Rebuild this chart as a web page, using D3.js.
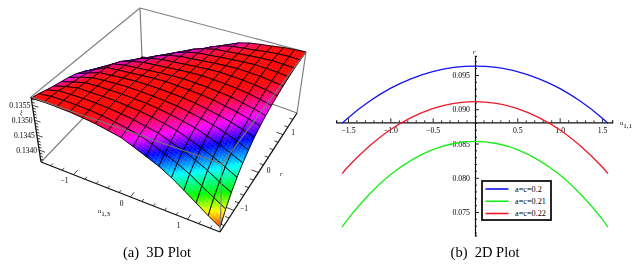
<!DOCTYPE html>
<html>
<head>
<meta charset="utf-8">
<title>3D and 2D plot</title>
<script src="https://cdn.jsdelivr.net/npm/d3@7"></script>
<style>
    html, body { margin: 0; padding: 0; background: #fff; }
    svg { display: block; filter: blur(0.3px); }
    text { font-family: "Liberation Serif", serif; fill: #000; }
</style>
</head>
<body>
<svg id="chart" width="642" height="267"></svg>
<script>
// surface data. one row per r, one column per u, in units of 1e-5
var uGrid = [-1.57, -1.36, -1.15, -0.94, -0.73, -0.52, -0.31, -0.10, 0.10, 0.31, 0.52, 0.73, 0.94, 1.15, 1.36, 1.57];
var rGrid = [-1.57, -1.36, -1.15, -0.94, -0.73, -0.52, -0.31, -0.10, 0.10, 0.31, 0.52, 0.73, 0.94, 1.15, 1.36, 1.57];
var surfaceZ = [
    [13573,13575,13574,13572,13568,13563,13555,13547,13531,13514,13497,13475,13449,13423,13397,13375],
    [13568,13574,13575,13574,13572,13568,13562,13554,13546,13531,13514,13497,13477,13453,13430,13408],
    [13560,13572,13574,13575,13574,13571,13567,13561,13553,13545,13530,13515,13498,13479,13456,13436],
    [13553,13566,13575,13575,13575,13574,13571,13567,13561,13553,13544,13530,13515,13498,13480,13460],
    [13547,13560,13572,13575,13575,13575,13573,13571,13566,13560,13552,13543,13530,13515,13499,13482],
    [13540,13555,13568,13572,13575,13576,13575,13573,13570,13566,13559,13551,13542,13530,13516,13499],
    [13531,13548,13564,13568,13572,13575,13576,13575,13573,13570,13565,13558,13550,13541,13529,13516],
    [13516,13538,13560,13564,13568,13572,13575,13577,13575,13573,13570,13565,13557,13550,13540,13529],
    [13499,13525,13551,13560,13564,13568,13572,13575,13577,13575,13573,13569,13565,13557,13549,13539],
    [13469,13505,13536,13551,13560,13564,13568,13572,13575,13577,13575,13573,13569,13564,13556,13548],
    [13442,13475,13514,13536,13551,13560,13564,13568,13572,13575,13577,13575,13573,13569,13564,13555],
    [13421,13444,13484,13514,13536,13551,13560,13564,13568,13572,13575,13577,13575,13573,13568,13563],
    [13401,13423,13451,13484,13514,13536,13551,13560,13564,13568,13572,13575,13577,13575,13573,13568],
    [13384,13401,13425,13451,13484,13514,13536,13551,13560,13564,13568,13572,13575,13577,13575,13573],
    [13371,13384,13401,13424,13448,13478,13508,13531,13548,13557,13562,13566,13572,13575,13577,13575],
    [13360,13371,13384,13401,13421,13442,13469,13499,13525,13544,13555,13561,13566,13572,13575,13577]
];
var zUnit = 1e-5;
var uTicks = [-1, 0, 1];
var rTicks = [-1, 0, 1];
var zTicks = [0.1340, 0.1345, 0.1350, 0.1355];

// 2D plot data
var curveU = [-1.57, -1.5, -1.25, -1, -0.75, -0.5, -0.25, 0, 0.25, 0.5, 0.75, 1, 1.25, 1.5, 1.57];
var blueValues = [0.08795, 0.08874, 0.09112, 0.09304, 0.09448, 0.0955, 0.0961, 0.0963, 0.0961, 0.0955, 0.09448, 0.09304, 0.09112, 0.08874, 0.08795];
var greenValues = [0.0728, 0.07399, 0.07755, 0.08043, 0.08257, 0.0841, 0.085, 0.0853, 0.085, 0.0841, 0.08257, 0.08043, 0.07755, 0.07399, 0.0728];
var redValues = [0.0806, 0.0816, 0.08459, 0.08701, 0.08881, 0.09009, 0.09085, 0.0911, 0.09085, 0.09009, 0.08881, 0.08701, 0.08459, 0.0816, 0.0806];
var seriesNames = ["a=c=0.2", "a=c=0.21", "a=c=0.22"];
var seriesColors = ["#1212ee", "#18ee18", "#ee1828"];
var xTicks2d = [-1.5, -1, -0.5, 0.5, 1, 1.5];
var yTicks2d = [0.075, 0.08, 0.085, 0.09, 0.095];

var svg = d3.select("#chart");

// ---- left panel ----
// where the box corners land on the page
var corners = {
    a0: [41, 162], a1: [31, 97],     // u min, r min
    b0: [220, 232], b1: [222, 164],  // u max, r min
    c0: [297, 113], c1: [306, 52],   // u max, r max
    d0: [142, 57], d1: [140, 8]      // u min, r max
};

var uScale = d3.scaleLinear().domain([-1.57, 1.57]).range([0, 1]);
var rScale = d3.scaleLinear().domain([-1.57, 1.57]).range([0, 1]);
var zScale = d3.scaleLinear().domain([0.1336, 0.13577]).range([0, 1]);

// z value to hue, the rainbow runs from the low corner round to red at the ridge
var hueScale = d3.scaleLinear()
    .domain([0.13371, 0.13403, 0.13438, 0.13479, 0.13516, 0.13542, 0.13562, 0.13570])
    .range([8, 55, 120, 180, 240, 300, 345, 360])
    .clamp(true);

function project(u, r, z) {
    var fu = uScale(u), fr = rScale(r), fz = zScale(z);
    var out = [0, 0];
    for (var k = 0; k < 2; k++) {
        var low = (1 - fr) * ((1 - fu) * corners.a0[k] + fu * corners.b0[k]) + fr * ((1 - fu) * corners.d0[k] + fu * corners.c0[k]);
        var high = (1 - fr) * ((1 - fu) * corners.a1[k] + fu * corners.b1[k]) + fr * ((1 - fu) * corners.d1[k] + fu * corners.c1[k]);
        out[k] = (1 - fz) * low + fz * high;
    }
    return out;
}

var uMin = -1.57, uMax = 1.57, rMin = -1.57, rMax = 1.57;
var zMin = zScale.domain()[0], zMax = zScale.domain()[1];

function boxLine(parent, p, q, color) {
    parent.append("line")
        .attr("x1", p[0]).attr("y1", p[1])
        .attr("x2", q[0]).attr("y2", q[1])
        .attr("stroke", color)
        .attr("stroke-width", 1.2);
}

var boxGrey = "#808080";
var behind = svg.append("g").attr("class", "box-back");
var surface = svg.append("g").attr("class", "surface");
var front = svg.append("g").attr("class", "box-front");

// back edges of the box, these sit behind the surface
boxLine(behind, project(uMin, rMin, zMin), project(uMin, rMax, zMin), boxGrey);
boxLine(behind, project(uMax, rMax, zMin), project(uMin, rMax, zMin), boxGrey);
boxLine(behind, project(uMin, rMax, zMin), project(uMin, rMax, zMax), boxGrey);
boxLine(behind, project(uMin, rMin, zMax), project(uMin, rMax, zMax), boxGrey);
boxLine(behind, project(uMax, rMax, zMax), project(uMin, rMax, zMax), boxGrey);
boxLine(behind, project(uMax, rMax, zMin), project(uMax, rMax, zMax), boxGrey);

var line3d = d3.line().curve(d3.curveLinearClosed);
var shades = 4;

function nodeZ(i, j) { return surfaceZ[j][i] * zUnit; }

// paint far cells first, far corner is u min / r max
for (var j = rGrid.length - 2; j >= 0; j--) {
    for (var i = 0; i < uGrid.length - 1; i++) {
        var cell = surface.append("g");
        var z00 = nodeZ(i, j), z10 = nodeZ(i + 1, j), z01 = nodeZ(i, j + 1), z11 = nodeZ(i + 1, j + 1);
        var at = function(a, b) {
            var u = uGrid[i] + a * (uGrid[i + 1] - uGrid[i]);
            var r = rGrid[j] + b * (rGrid[j + 1] - rGrid[j]);
            var z = (1 - b) * ((1 - a) * z00 + a * z10) + b * ((1 - a) * z01 + a * z11);
            return {p: project(u, r, z), z: z};
        };
        // a few flat patches per cell so the colour runs smoothly
        for (var s = 0; s < shades; s++) {
            for (var t = 0; t < shades; t++) {
                var a0 = s / shades, a1 = (s + 1) / shades, b0 = t / shades, b1 = (t + 1) / shades;
                var col = d3.hsl(hueScale(at((a0 + a1) / 2, (b0 + b1) / 2).z), 1, 0.5).formatHex();
                cell.append("path")
                    .attr("d", line3d([at(a0, b0).p, at(a1, b0).p, at(a1, b1).p, at(a0, b1).p]))
                    .attr("fill", col)
                    .attr("stroke", col)
                    .attr("stroke-width", 0.4);
            }
        }
        cell.append("path")
            .attr("d", line3d([at(0, 0).p, at(1, 0).p, at(1, 1).p, at(0, 1).p]))
            .attr("fill", "none")
            .attr("stroke", "#000")
            .attr("stroke-width", 0.9);
    }
}

// front top edges and the near vertical run over the surface
boxLine(front, project(uMin, rMin, zMax), project(uMax, rMin, zMax), "#777");
boxLine(front, project(uMax, rMax, zMax), project(uMax, rMin, zMax), "#777");
boxLine(front, project(uMax, rMin, zMin), project(uMax, rMin, zMax), "#888");

// the three black axes
var axisColor = "#111";
var uAxis3d = svg.append("g").attr("class", "u-axis");
var rAxis3d = svg.append("g").attr("class", "r-axis");
var zAxis3d = svg.append("g").attr("class", "z-axis");

function axisEdge(parent, p, q) {
    parent.append("line")
        .attr("x1", p[0]).attr("y1", p[1])
        .attr("x2", q[0]).attr("y2", q[1])
        .attr("stroke", axisColor)
        .attr("stroke-width", 1.3);
}
axisEdge(uAxis3d, project(uMin, rMin, zMin), project(uMax, rMin, zMin));
axisEdge(rAxis3d, project(uMax, rMin, zMin), project(uMax, rMax, zMin));
axisEdge(zAxis3d, project(uMin, rMin, zMin), project(uMin, rMin, zMax));

d3.range(-14, 15, 2).forEach(function(v) {
    var val = v / 10;
    var major = v % 10 === 0;
    var len = major ? 0.13 : 0.07;
    var p = project(val, rMin, zMin), q = project(val, rMin + len, zMin);
    uAxis3d.append("line").attr("x1", p[0]).attr("y1", p[1]).attr("x2", q[0]).attr("y2", q[1])
        .attr("stroke", axisColor).attr("stroke-width", 0.8);
    p = project(uMax, val, zMin);
    q = project(uMax - len, val, zMin);
    rAxis3d.append("line").attr("x1", p[0]).attr("y1", p[1]).attr("x2", q[0]).attr("y2", q[1])
        .attr("stroke", axisColor).attr("stroke-width", 0.8);
});

d3.range(1337, 1358).forEach(function(v) {
    var val = v / 10000;
    var len = v % 5 === 0 ? 0.1 : 0.05;
    var p = project(uMin, rMin, val), q = project(uMin + len, rMin, val);
    zAxis3d.append("line").attr("x1", p[0]).attr("y1", p[1]).attr("x2", q[0]).attr("y2", q[1])
        .attr("stroke", axisColor).attr("stroke-width", 0.8);
});

uAxis3d.selectAll("text").data(uTicks).enter().append("text")
    .attr("x", function(d) { return project(d, rMin, zMin)[0] - 9; })
    .attr("y", function(d) { return project(d, rMin, zMin)[1] + 6; })
    .attr("dy", "0.35em")
    .attr("text-anchor", "middle")
    .attr("font-size", 7.5)
    .text(function(d) { return d < 0 ? "\u2212" + (-d) : d; });

rAxis3d.selectAll("text").data(rTicks).enter().append("text")
    .attr("x", function(d) { return project(uMax, d, zMin)[0] + 10; })
    .attr("y", function(d) { return project(uMax, d, zMin)[1] - 2; })
    .attr("dy", "0.35em")
    .attr("text-anchor", "middle")
    .attr("font-size", 7.5)
    .text(function(d) { return d < 0 ? "\u2212" + (-d) : d; });

zAxis3d.selectAll("text").data(zTicks).enter().append("text")
    .attr("x", function(d) { return project(uMin, rMin, d)[0] - 2; })
    .attr("y", function(d) { return project(uMin, rMin, d)[1]; })
    .attr("dy", "0.35em")
    .attr("text-anchor", "end")
    .attr("font-size", 7.6)
    .text(d3.format(".4f"));

function subscriptLabel(x, y, main, sub) {
    var label = svg.append("text").attr("x", x).attr("y", y).attr("font-size", 6.5);
    label.append("tspan").attr("font-style", "italic").text(main);
    label.append("tspan").attr("dy", 2.5).attr("font-size", 7).text(sub);
}
subscriptLabel(98, 213, "u", "1,3");
svg.append("text").attr("x", 280).attr("y", 176).attr("font-size", 6.5).attr("font-style", "italic").text("r");
svg.append("text").attr("x", 20).attr("y", 114).attr("font-size", 5.5).attr("font-style", "italic").text("\u03be");

// ---- right panel ----
var xScale = d3.scaleLinear().domain([-1.5, 1.5]).range([348, 602]);
var yScale = d3.scaleLinear().domain([0.075, 0.095]).range([212, 75]);
var xAxisY = 122.3, yAxisX = xScale(0);

var curves = [blueValues, greenValues, redValues];
var curveLine = d3.line()
    .x(function(d) { return xScale(d[0]); })
    .y(function(d) { return yScale(d[1]); })
    .curve(d3.curveCatmullRom);

function styleAxis(g) {
    g.selectAll("path").attr("stroke", axisColor).attr("stroke-width", 1.2);
    g.selectAll("line").attr("stroke", axisColor).attr("stroke-width", 0.9);
    g.selectAll("text").attr("font-family", "Liberation Serif").attr("font-size", 7.8).attr("fill", "#000");
}

var xDomain = [-1.64, 1.62];
var xAxisScale = d3.scaleLinear().domain(xDomain).range([xScale(xDomain[0]), xScale(xDomain[1])]);
var xAxis2d = svg.append("g").attr("transform", "translate(0," + xAxisY + ")");
xAxis2d.call(d3.axisBottom(xAxisScale)
    .tickValues(d3.range(-15, 16).map(function(v) { return v / 10; }))
    .tickSize(-2)
    .tickPadding(5)
    .tickFormat(function(d) {
        if (Math.abs(d * 2 - Math.round(d * 2)) > 1e-6 || d === 0) return "";
        return d3.format(".1f")(d).replace("-", "\u2212");
    }));
xAxis2d.selectAll(".tick").filter(function(d) { return Math.abs(d * 2 - Math.round(d * 2)) < 1e-6; })
    .select("line").attr("y2", -4);
xAxis2d.call(styleAxis);

var yDomain = [0.0716, 0.0978];
var yAxisScale = d3.scaleLinear().domain(yDomain).range([yScale(yDomain[0]), yScale(yDomain[1])]);
var yAxis2d = svg.append("g").attr("transform", "translate(" + yAxisX + ",0)");
yAxis2d.call(d3.axisLeft(yAxisScale)
    .tickValues(d3.range(72, 98).map(function(v) { return v / 1000; }))
    .tickSize(-2)
    .tickPadding(5)
    .tickFormat(function(d) {
        return yTicks2d.some(function(t) { return Math.abs(t - d) < 1e-6; }) ? d3.format(".3f")(d) : "";
    }));
yAxis2d.selectAll(".tick").filter(function(d) { return yTicks2d.some(function(t) { return Math.abs(t - d) < 1e-6; }); })
    .select("line").attr("x2", 4);
yAxis2d.call(styleAxis);

svg.selectAll("path.curve").data(curves).enter().append("path")
    .attr("class", "curve")
    .attr("fill", "none")
    .attr("stroke", function(d, i) { return seriesColors[i]; })
    .attr("stroke-width", 1.3)
    .attr("d", function(d) { return curveLine(d3.zip(curveU, d)); });

subscriptLabel(620, 125, "u", "1,1");
svg.append("text").attr("x", 473).attr("y", 54).attr("font-size", 6.5).attr("font-style", "italic").text("r");

// legend
var legend = svg.append("g").attr("transform", "translate(482,181)");
legend.append("rect")
    .attr("width", 69).attr("height", 39)
    .attr("fill", "#fff").attr("stroke", "#111").attr("stroke-width", 1.8);
var legendRow = d3.scalePoint().domain(seriesNames).range([8, 32.5]);
seriesNames.forEach(function(name, i) {
    legend.append("line")
        .attr("x1", 3.5).attr("x2", 26.5)
        .attr("y1", legendRow(name)).attr("y2", legendRow(name))
        .attr("stroke", seriesColors[i]).attr("stroke-width", 1.6);
    legend.append("text")
        .attr("x", 33).attr("y", legendRow(name)).attr("dy", "0.35em")
        .attr("font-size", 8.2)
        .text(name);
});

// captions
var captions = [["(a)  3D Plot", 157], ["(b)  2D Plot", 485]];
svg.selectAll("text.caption").data(captions).enter().append("text")
    .attr("class", "caption")
    .attr("x", function(d) { return d[1]; })
    .attr("y", 257)
    .attr("text-anchor", "middle")
    .attr("font-size", 14.5)
    .style("white-space", "pre")
    .text(function(d) { return d[0]; });
</script>
</body>
</html>
